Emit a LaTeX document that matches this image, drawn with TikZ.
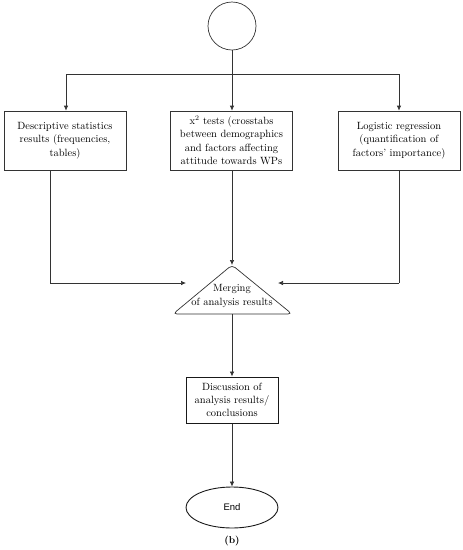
\documentclass[tikz,border=0pt]{standalone}
\usepackage{fontspec}
\newfontfamily\endfont{Liberation Sans}
\usetikzlibrary{arrows.meta,shapes.geometric}
\begin{document}
\begin{tikzpicture}[x=1pt,y=-1pt,
  line/.style={draw=black!80,line width=0.7pt},
  arr/.style={line,-{Latex[length=5pt,width=4.5pt]}},
  box/.style={draw=black!80,line width=0.7pt,align=center,inner sep=2pt,font=\fontsize{10.5}{13.3}\selectfont},
  txt/.style={align=center,inner sep=0pt,font=\fontsize{10.5}{13.3}\selectfont}]
\useasboundingbox (0,0) rectangle (463,550);
\node[draw=black!80,line width=0.7pt,circle,minimum size=48pt,inner sep=0pt] (start) at (232,26) {};
\coordinate (split) at (232,74);
\coordinate (sl) at (66,74);
\coordinate (sr) at (399,74);
\node[box,minimum width=122pt,minimum height=59pt,text width=118pt] (desc) at (65,140.5) {Descriptive statistics\\results (frequencies,\\tables)};
\node[box,minimum width=121pt,minimum height=59pt,text width=118pt] (chi) at (231.5,140.5) {x$^2$ tests (crosstabs\\between demographics\\and factors affecting\\attitude towards WPs};
\node[box,minimum width=122pt,minimum height=59pt,text width=118pt] (logit) at (399,140.5) {Logistic regression\\(quantification of\\factors'\ importance)};
% triangle
\coordinate (apex) at (232,265);
\coordinate (bl) at (173,314);
\coordinate (br) at (292,314);
\coordinate (base) at (232,314);
\draw[line,rounded corners=4pt] (bl) -- (apex) -- (br) -- cycle;
\node[txt] (merge) at (232,296) {Merging\\of analysis results};
\coordinate (inl) at (186,283);
\coordinate (inr) at (278,283);
\coordinate (cl) at (50,283);
\coordinate (cr) at (399,283);
\node[draw=black!90,line width=1pt,align=center,minimum width=92pt,minimum height=46pt,inner sep=1pt,font=\fontsize{10.5}{13.3}\selectfont] (disc) at (232,400) {Discussion of\\analysis results/\\conclusions};
\node[draw=black!90,line width=0.9pt,ellipse,minimum width=92pt,minimum height=41pt,inner sep=0pt,font=\endfont\fontsize{9.5}{11}\selectfont] (end) at (232,507.5) {End};
\node[inner sep=0pt,font=\bfseries\fontsize{10}{12}\selectfont] (lab) at (232,541) {(b)};
% connectors
\draw[line] (start) -- (split);
\draw[line] (sl) -- (sr);
\draw[arr] (sl) -- (desc.north -| sl);
\draw[arr] (split) -- (chi.north -| split);
\draw[arr] (sr) -- (logit.north -| sr);
\draw[line] (desc.south -| cl) -- (cl);
\draw[arr] (cl) -- (inl);
\draw[arr] (chi.south -| apex) -- (apex);
\draw[line] (logit.south -| cr) -- (cr);
\draw[arr] (cr) -- (inr);
\draw[arr] (base) -- (disc);
\draw[arr] (disc) -- (end);
\end{tikzpicture}
\end{document}
